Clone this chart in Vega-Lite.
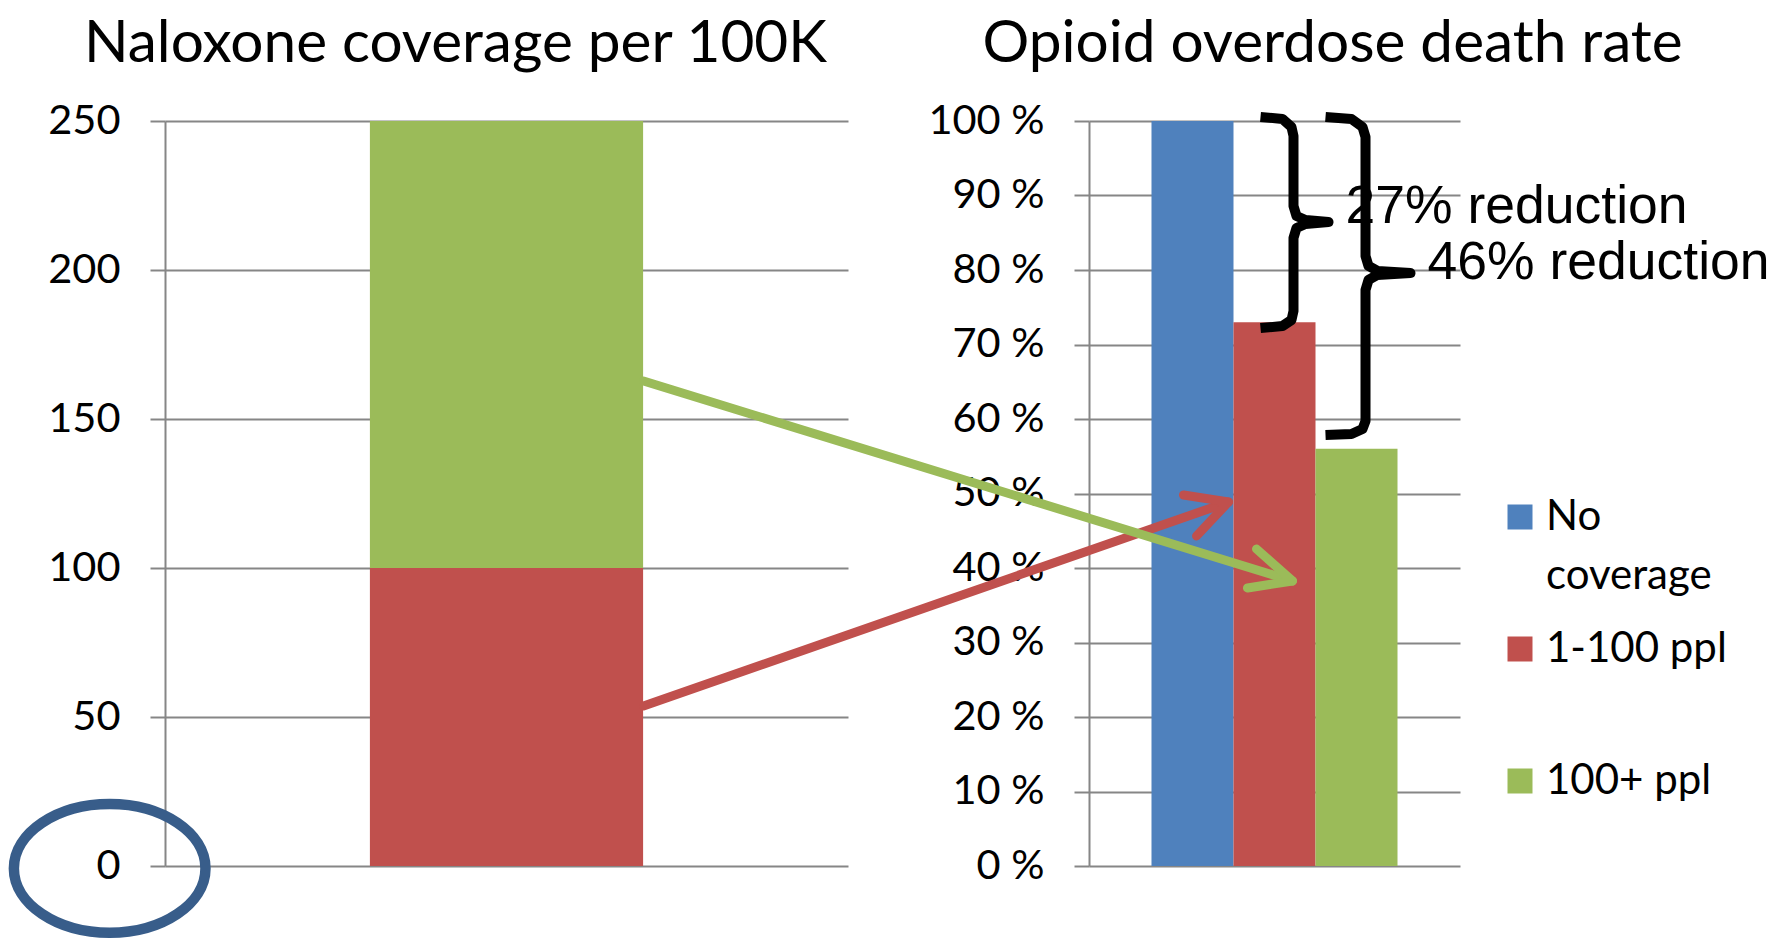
{
  "$schema": "https://vega.github.io/schema/vega-lite/v6.json",
  "background": "white",
  "padding": {"left": -8, "top": 14, "right": 10, "bottom": 0},
  "bounds": "flush",
  "spacing": 241,
  "config": {
    "view": {"stroke": null},
    "font": "Lato",
    "title": {"font": "Lato", "fontSize": 58.5, "fontWeight": "normal", "color": "black", "anchor": "middle", "baseline": "alphabetic", "offset": 26},
    "axis": {"grid": true, "gridColor": "#868686", "gridWidth": 2, "domainColor": "#868686", "domainWidth": 2, "tickColor": "#868686", "tickWidth": 2, "tickSize": 15, "labelFont": "Lato", "labelFontSize": 41.5, "labelColor": "black", "labelPadding": 30, "title": null, "zindex": 0},
    "style": {"guide-label": {"lineHeight": 59}}
  },
  "datasets": {
    "coverage": [
      {"panel": "all", "series": "1-100 ppl", "from": 0, "to": 100},
      {"panel": "all", "series": "100+ ppl", "from": 100, "to": 250}
    ],
    "rates": [
      {"series": "No coverage", "rate": 100},
      {"series": "1-100 ppl", "rate": 73},
      {"series": "100+ ppl", "rate": 56}
    ],
    "ellipse": [{"x": -0.81, "y": -0.8}],
    "braces": [
      {"brace": "27", "i": 0, "x": 4.623, "y": 100.54},
      {"brace": "27", "i": 1, "x": 5.216, "y": 100.27},
      {"brace": "27", "i": 2, "x": 5.458, "y": 99.19},
      {"brace": "27", "i": 3, "x": 5.512, "y": 97.99},
      {"brace": "27", "i": 4, "x": 5.512, "y": 88.59},
      {"brace": "27", "i": 5, "x": 5.593, "y": 87.25},
      {"brace": "27", "i": 6, "x": 5.836, "y": 86.71},
      {"brace": "27", "i": 7, "x": 6.456, "y": 86.44},
      {"brace": "27", "i": 8, "x": 5.836, "y": 86.17},
      {"brace": "27", "i": 9, "x": 5.593, "y": 85.64},
      {"brace": "27", "i": 10, "x": 5.512, "y": 84.3},
      {"brace": "27", "i": 11, "x": 5.512, "y": 74.5},
      {"brace": "27", "i": 12, "x": 5.458, "y": 73.29},
      {"brace": "27", "i": 13, "x": 5.216, "y": 72.48},
      {"brace": "27", "i": 14, "x": 4.623, "y": 72.21},
      {"brace": "46", "i": 0, "x": 6.375, "y": 100.54},
      {"brace": "46", "i": 1, "x": 7.075, "y": 100.27},
      {"brace": "46", "i": 2, "x": 7.372, "y": 99.19},
      {"brace": "46", "i": 3, "x": 7.453, "y": 97.85},
      {"brace": "46", "i": 4, "x": 7.453, "y": 81.88},
      {"brace": "46", "i": 5, "x": 7.534, "y": 80.54},
      {"brace": "46", "i": 6, "x": 7.776, "y": 79.87},
      {"brace": "46", "i": 7, "x": 8.666, "y": 79.6},
      {"brace": "46", "i": 8, "x": 7.776, "y": 79.33},
      {"brace": "46", "i": 9, "x": 7.534, "y": 78.66},
      {"brace": "46", "i": 10, "x": 7.453, "y": 77.32},
      {"brace": "46", "i": 11, "x": 7.453, "y": 59.73},
      {"brace": "46", "i": 12, "x": 7.372, "y": 58.66},
      {"brace": "46", "i": 13, "x": 7.075, "y": 57.99},
      {"brace": "46", "i": 14, "x": 6.375, "y": 57.85}
    ],
    "arrows": [
      {"series": "1-100 ppl", "part": "red shaft", "i": 0, "x": -12.008, "y": 21.48},
      {"series": "1-100 ppl", "part": "red shaft", "i": 1, "x": 3.76, "y": 48.86},
      {"series": "1-100 ppl", "part": "red head", "i": 0, "x": 2.547, "y": 49.8},
      {"series": "1-100 ppl", "part": "red head", "i": 1, "x": 3.76, "y": 48.86},
      {"series": "1-100 ppl", "part": "red head", "i": 2, "x": 2.898, "y": 44.3},
      {"series": "100+ ppl", "part": "green shaft", "i": 0, "x": -12.008, "y": 65.1},
      {"series": "100+ ppl", "part": "green shaft", "i": 1, "x": 5.485, "y": 38.26},
      {"series": "100+ ppl", "part": "green head", "i": 0, "x": 4.515, "y": 42.55},
      {"series": "100+ ppl", "part": "green head", "i": 1, "x": 5.485, "y": 38.26},
      {"series": "100+ ppl", "part": "green head", "i": 2, "x": 4.272, "y": 37.32}
    ],
    "notes": [
      {"label": "27% reduction", "x": 6.914, "y": 86.31},
      {"label": "46% reduction", "x": 9.124, "y": 78.75}
    ]
  },
  "hconcat": [
    {
      "width": 683,
      "height": 745,
      "title": {"text": "Naloxone coverage per 100K", "dx": -51},
      "layer": [
        {
          "data": {"name": "coverage"},
          "mark": {"type": "bar"},
          "encoding": {
            "x": {"field": "panel", "type": "nominal", "axis": null, "scale": {"paddingInner": 0.6, "paddingOuter": 0.3}},
            "y": {"field": "from", "type": "quantitative", "scale": {"domain": [0, 250]}, "axis": {"values": [0, 50, 100, 150, 200, 250]}, "title": null},
            "y2": {"field": "to"},
            "color": {
              "field": "series", "type": "nominal",
              "scale": {"domain": ["No coverage", "1-100 ppl", "100+ ppl"], "range": ["#4F81BD", "#C0504D", "#9BBB59"]},
              "legend": {"title": null, "orient": "none", "legendX": 1334, "legendY": 375, "symbolType": "square", "symbolSize": 625, "symbolStrokeWidth": 0, "labelFont": "Lato", "labelFontSize": 42, "labelColor": "black", "labelOffset": 5, "rowPadding": 31, "labelLimit": 0, "labelExpr": "datum.label == 'No coverage' ? ['No', 'coverage'] : [datum.label, '']"}
            }
          }
        },
        {
          "data": {"name": "ellipse"},
          "mark": {"type": "point", "shape": "M-1,0A1,0.671,0,1,1,1,0A1,0.671,0,1,1,-1,0Z", "size": 36711, "filled": false, "stroke": "#385D8A", "strokeWidth": 10.5, "opacity": 1},
          "encoding": {
            "x": {"field": "x", "type": "quantitative", "scale": {"domain": [0, 10]}, "axis": null},
            "y": {"field": "y", "type": "quantitative", "scale": {"domain": [0, 250]}, "title": null}
          }
        }
      ],
      "resolve": {"scale": {"x": "independent"}}
    },
    {
      "width": 371,
      "height": 745,
      "title": {"text": "Opioid overdose death rate", "dx": 58},
      "layer": [
        {
          "data": {"name": "rates"},
          "mark": {"type": "bar"},
          "encoding": {
            "x": {"field": "series", "type": "nominal", "axis": null, "scale": {"domain": ["No coverage", "1-100 ppl", "100+ ppl"], "paddingInner": 0, "paddingOuter": 0.762}},
            "y": {"field": "rate", "type": "quantitative", "scale": {"domain": [0, 100]}, "axis": {"values": [0, 10, 20, 30, 40, 50, 60, 70, 80, 90, 100], "labelExpr": "datum.value + ' %'"}, "title": null},
            "color": {"field": "series", "type": "nominal"}
          }
        },
        {
          "data": {"name": "braces"},
          "mark": {"type": "line", "color": "black", "strokeWidth": 10, "strokeJoin": "round", "strokeCap": "butt"},
          "encoding": {
            "x": {"field": "x", "type": "quantitative", "scale": {"domain": [0, 10]}, "axis": null},
            "y": {"field": "y", "type": "quantitative", "scale": {"domain": [0, 100]}, "title": null},
            "detail": {"field": "brace", "type": "nominal"},
            "order": {"field": "i", "type": "quantitative"}
          }
        },
        {
          "data": {"name": "arrows"},
          "mark": {"type": "line", "strokeWidth": 9, "strokeJoin": "round", "strokeCap": "round"},
          "encoding": {
            "x": {"field": "x", "type": "quantitative", "scale": {"domain": [0, 10]}, "axis": null},
            "y": {"field": "y", "type": "quantitative", "scale": {"domain": [0, 100]}, "title": null},
            "stroke": {"field": "series", "type": "nominal", "scale": {"domain": ["1-100 ppl", "100+ ppl"], "range": ["#C0504D", "#9BBB59"]}, "legend": null},
            "detail": {"field": "part", "type": "nominal"},
            "order": {"field": "i", "type": "quantitative"}
          }
        },
        {
          "data": {"name": "notes"},
          "mark": {"type": "text", "font": "Liberation Sans", "fontSize": 53.5, "align": "left", "baseline": "alphabetic", "color": "black"},
          "encoding": {
            "x": {"field": "x", "type": "quantitative", "scale": {"domain": [0, 10]}, "axis": null},
            "y": {"field": "y", "type": "quantitative", "scale": {"domain": [0, 100]}, "title": null},
            "text": {"field": "label", "type": "nominal"}
          }
        }
      ],
      "resolve": {"scale": {"x": "independent"}}
    }
  ]
}
